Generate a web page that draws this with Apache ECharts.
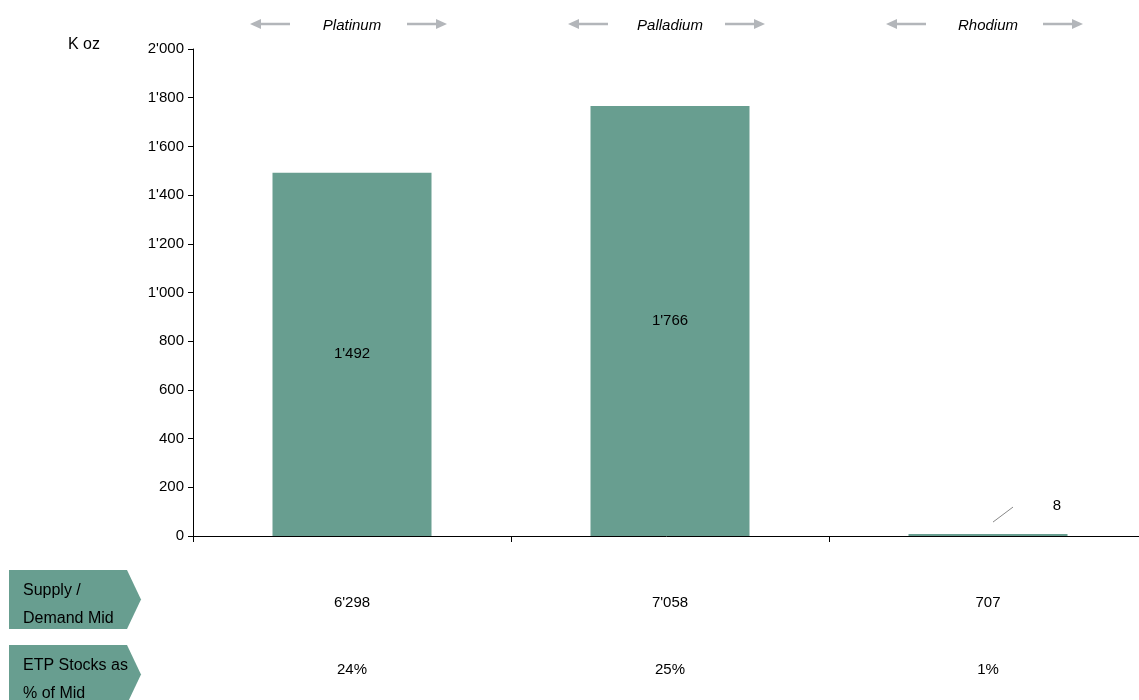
<!DOCTYPE html>
<html>
<head>
<meta charset="utf-8">
<script src="https://cdn.jsdelivr.net/npm/echarts@6/dist/echarts.min.js"></script>
<style>
  html, body { margin: 0; padding: 0; background: #fff; }
  #chart { width: 1139px; height: 700px; }
</style>
</head>
<body>
<div id="chart"></div>
<script>
// Metals and ETP holdings (thousand ounces)
const metals = ['Platinum', 'Palladium', 'Rhodium'];
const etpHoldings = [1492, 1766, 8];
const supplyDemandMid = [6298, 7058, 707];
const etpShareOfMid = ['24%', '25%', '1%'];
const yTicks = { min: 0, max: 2000, interval: 200 };
const rowTitles = [['Supply /', 'Demand Mid'], ['ETP Stocks as', '% of Mid']];

const FONT = '"Liberation Sans", Arial, sans-serif';
const BAR = '#689e90';

function fmt(v) {
  return String(v).replace(/\B(?=(\d{3})+(?!\d))/g, "'");
}

const chart = echarts.init(document.getElementById('chart'));

const plainAxis = (data, offset, extra) => Object.assign({
  type: 'category',
  data: data,
  position: 'bottom',
  offset: offset,
  axisLine: { show: false },
  axisTick: { show: false },
  axisLabel: { color: '#000', fontSize: 15, fontFamily: FONT }
}, extra || {});

chart.setOption({
  animation: false,
  // the plot runs a little past the right edge of the canvas
  grid: { left: 193, width: 954, top: 49, bottom: 164, outerBoundsMode: 'none', containLabel: false },
  xAxis: [
    {
      type: 'category',
      data: metals,
      axisLine: { lineStyle: { color: '#000', width: 1 } },
      axisTick: { show: true, length: 6, lineStyle: { color: '#000' } },
      axisLabel: { show: false }
    },
    plainAxis(supplyDemandMid.map(fmt), 51),
    plainAxis(etpShareOfMid, 118),
    plainAxis(metals, 8, {
      position: 'top',
      axisLabel: { color: '#000', fontSize: 15, fontStyle: 'italic', fontFamily: FONT }
    })
  ],
  yAxis: {
    type: 'value',
    min: yTicks.min,
    max: yTicks.max,
    interval: yTicks.interval,
    splitLine: { show: false },
    axisLine: { show: true, lineStyle: { color: '#000' } },
    axisTick: { show: true, length: 5, lineStyle: { color: '#000' } },
    axisLabel: { color: '#000', fontSize: 15, fontFamily: FONT, margin: 9, formatter: v => fmt(v) }
  },
  series: [{
    type: 'bar',
    data: etpHoldings.map((v, i) => i === 2 ? {
      value: v,
      label: { position: 'top', offset: [69, -16] }
    } : v),
    barWidth: '50%',
    itemStyle: { color: BAR },
    label: {
      show: true,
      position: 'inside',
      color: '#000',
      fontSize: 15,
      fontFamily: FONT,
      formatter: p => fmt(p.value)
    }
  }]
});

// Decorations placed relative to the axes
function drawDecor() {
  const g = [];
  const arrow = (x1, x2, y) => {
    const dir = Math.sign(x2 - x1);
    g.push({ type: 'line', shape: { x1: x1, y1: y, x2: x2 - dir * 8, y2: y },
      style: { stroke: '#b3b6ba', lineWidth: 2.5 }, silent: true });
    g.push({ type: 'polygon', shape: { points: [[x2, y], [x2 - dir * 11, y - 5], [x2 - dir * 11, y + 5]] },
      style: { fill: '#b3b6ba' }, silent: true });
  };
  metals.forEach((m, i) => {
    const cx = chart.convertToPixel({ xAxisIndex: 0 }, m);
    arrow(cx - 62, cx - 102, 24);
    arrow(cx + 55, cx + 95, 24);
  });

  // Leader line for the small Rhodium value
  const p = chart.convertToPixel({ xAxisIndex: 0, yAxisIndex: 0 }, [metals[2], etpHoldings[2]]);
  g.push({ type: 'line', shape: { x1: p[0] + 5, y1: p[1] - 12, x2: p[0] + 25, y2: p[1] - 27 },
    style: { stroke: '#888', lineWidth: 1 }, silent: true });

  // Unit label
  g.push({ type: 'text', left: 68, top: 37,
    style: { text: 'K oz', fill: '#000', font: '16px ' + FONT } });

  // Row header tabs
  const tops = [570, 645];
  rowTitles.forEach((lines, i) => {
    const t = tops[i], h = 59;
    g.push({ type: 'polygon', shape: { points: [[9, t], [127, t], [141, t + h / 2], [127, t + h], [9, t + h]] },
      style: { fill: BAR }, silent: true });
    g.push({ type: 'text', left: 23, top: t + 7,
      style: { text: lines.join('\n'), fill: '#000', font: '16px ' + FONT, lineHeight: 28 } });
  });
  chart.setOption({ graphic: g });
}
drawDecor();
</script>
</body>
</html>
